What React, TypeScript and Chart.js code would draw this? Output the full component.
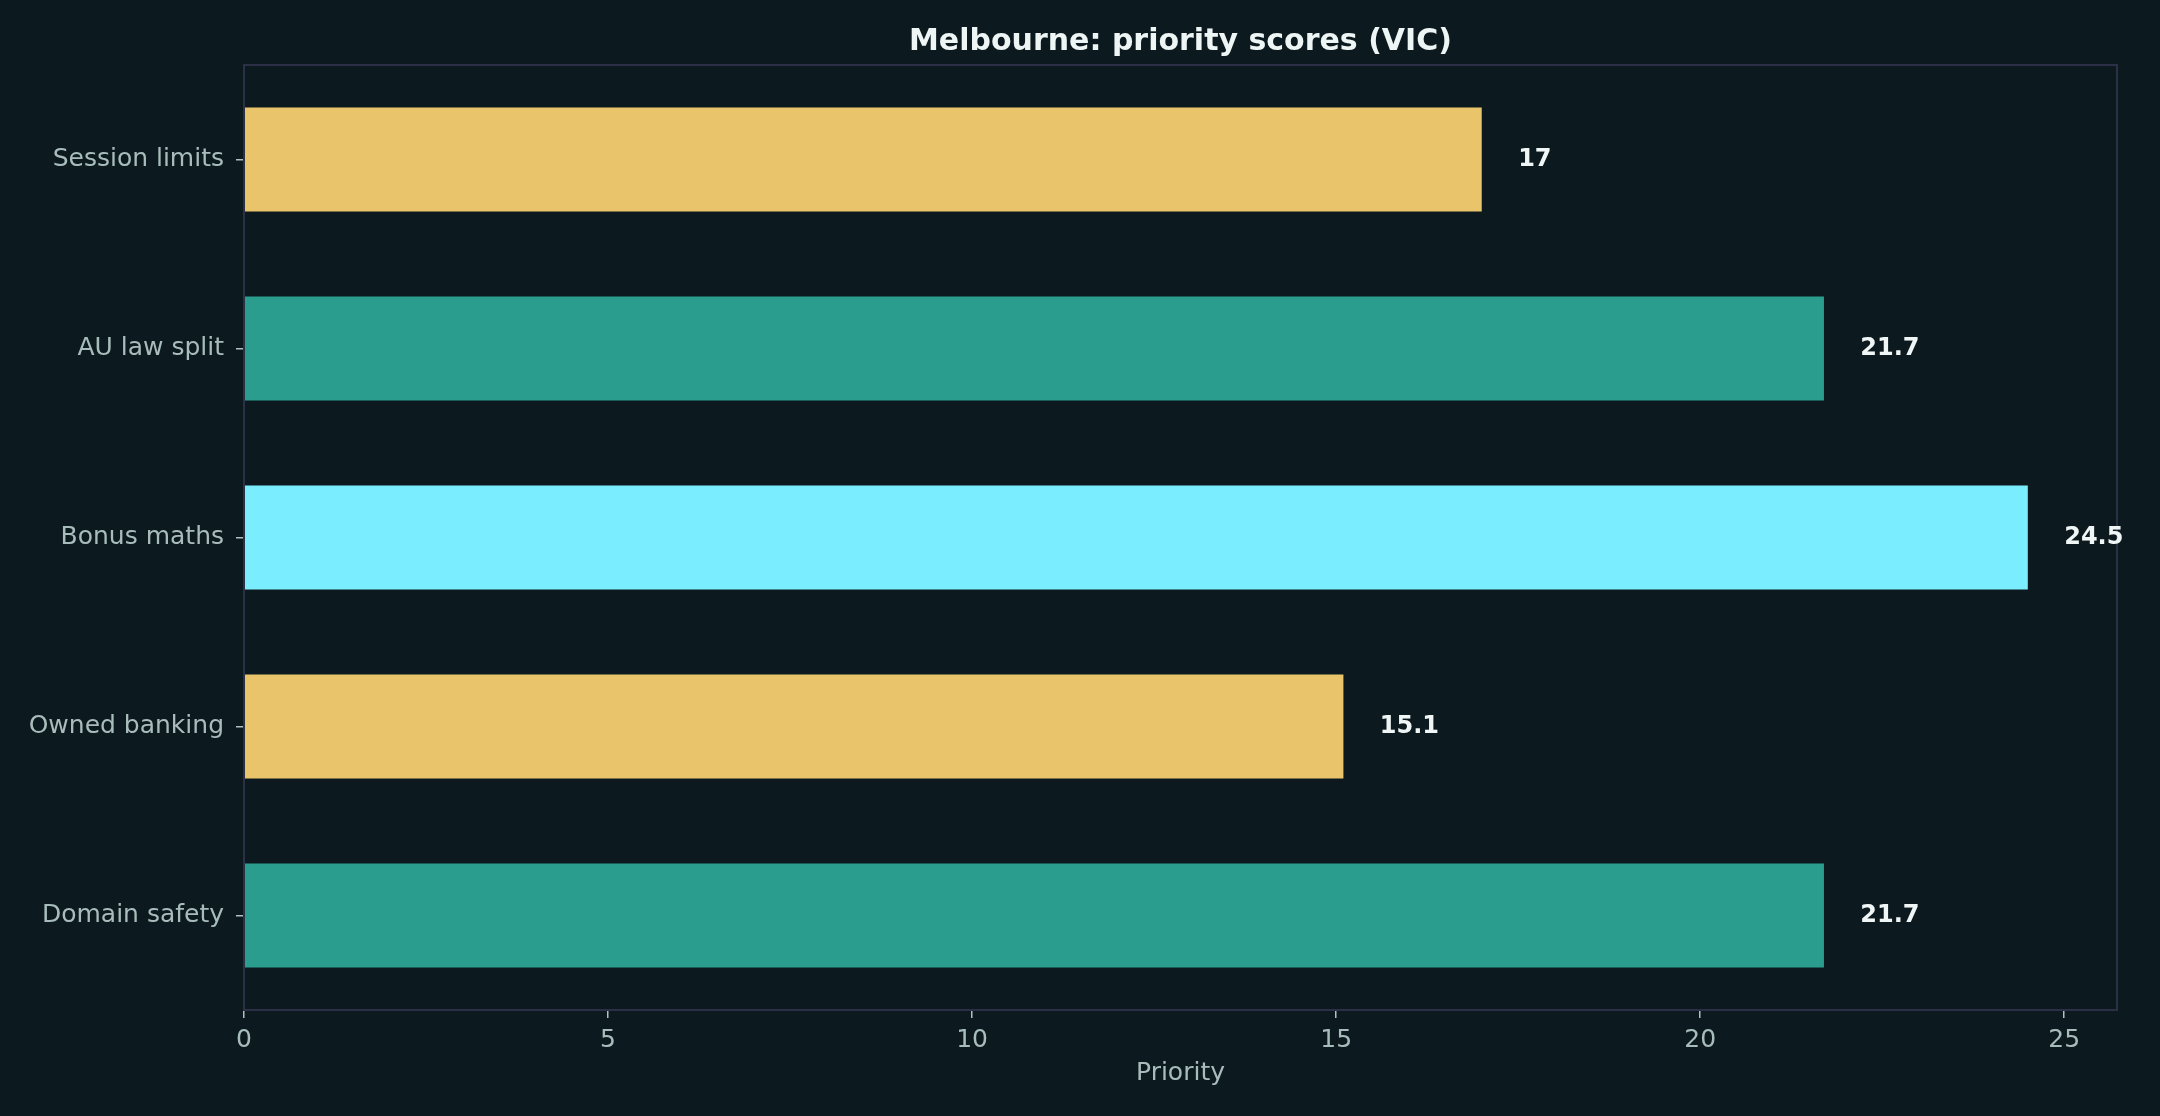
import React, { useEffect, useRef } from 'react';
import { Chart, registerables } from 'chart.js';

Chart.register(...registerables);

const categories = ['Session limits', 'AU law split', 'Bonus maths', 'Owned banking', 'Domain safety'];
const scores = [17, 21.7, 24.5, 15.1, 21.7];
const barColors = ['#e9c46a', '#2a9d8f', '#7aedfe', '#e9c46a', '#2a9d8f'];
const xTicks = [0, 5, 10, 15, 20, 25];

const BG = '#0c1a1f';
const FRAME = '#2b3046';
const TICK_TEXT = '#a9bcbc';
const FONT = "'DejaVu Sans', sans-serif";

const App: React.FC = () => {
    const chartRef = useRef<HTMLCanvasElement | null>(null);

    useEffect(() => {
        document.body.style.margin = '0';
        document.body.style.background = BG;

        const bgPlugin = {
            id: 'bg',
            beforeDraw(chart: any) {
                const { ctx, width, height } = chart;
                ctx.save();
                ctx.fillStyle = BG;
                ctx.fillRect(0, 0, width, height);
                ctx.restore();
            },
        };

        // frame round the plot area + value labels after each bar
        const labelPlugin = {
            id: 'valueLabels',
            afterDatasetsDraw(chart: any) {
                const { ctx, chartArea } = chart;
                const xs = chart.scales.x;
                ctx.save();
                ctx.strokeStyle = FRAME;
                ctx.lineWidth = 2;
                ctx.strokeRect(chartArea.left, chartArea.top, chartArea.right - chartArea.left, chartArea.bottom - chartArea.top);

                const meta = chart.getDatasetMeta(0);
                ctx.fillStyle = '#f0f5f5';
                ctx.font = `bold 24px ${FONT}`;
                ctx.textAlign = 'left';
                ctx.textBaseline = 'middle';
                scores.forEach((v, i) => {
                    const el = meta.data[i];
                    ctx.fillText(String(v), xs.getPixelForValue(v + 0.5), el.y);
                });
                ctx.restore();
            },
        };

        const ctx = chartRef.current?.getContext('2d');
        if (!ctx) return;

        const chart = new Chart(ctx, {
            type: 'bar',
            data: {
                labels: categories,
                datasets: [{
                    data: scores,
                    backgroundColor: barColors,
                    borderWidth: 0,
                    barPercentage: 0.55,
                    categoryPercentage: 1,
                }],
            },
            options: {
                indexAxis: 'y',
                responsive: false,
                animation: false,
                devicePixelRatio: 1,
                layout: { padding: { left: 0, right: 43, top: 0, bottom: 0 } },
                plugins: {
                    legend: { display: false },
                    tooltip: { enabled: false },
                    title: {
                        display: true,
                        fullSize: false,
                        text: 'Melbourne: priority scores (VIC)',
                        color: '#eef5f5',
                        font: { family: FONT, size: 30, weight: 'bold' },
                        padding: { top: 24, bottom: 5 },
                    },
                },
                scales: {
                    x: {
                        min: 0,
                        max: 25.725,
                        afterBuildTicks: (s: any) => {
                            s.ticks = xTicks.map((v) => ({ value: v }));
                        },
                        afterFit: (s: any) => {
                            s.height = 106;
                        },
                        ticks: {
                            color: TICK_TEXT,
                            font: { family: FONT, size: 25 },
                            padding: 7,
                            maxRotation: 0,
                        },
                        grid: {
                            drawOnChartArea: false,
                            drawTicks: true,
                            tickLength: 8,
                            color: '#b0c0c0',
                            lineWidth: 1.5,
                        },
                        border: { display: false },
                        title: {
                            display: true,
                            text: 'Priority',
                            color: TICK_TEXT,
                            font: { family: FONT, size: 25 },
                            padding: { top: 0, bottom: 28 },
                        },
                    },
                    y: {
                        afterFit: (s: any) => {
                            s.width = 244;
                        },
                        ticks: {
                            color: TICK_TEXT,
                            font: { family: FONT, size: 25 },
                            padding: 12,
                        },
                        grid: {
                            offset: false,
                            drawOnChartArea: false,
                            drawTicks: true,
                            tickLength: 8,
                            color: '#b0c0c0',
                            lineWidth: 1.5,
                        },
                        border: { display: false },
                    },
                },
            },
            plugins: [bgPlugin, labelPlugin],
        });

        return () => {
            chart.destroy();
        };
    }, []);

    return (
        <div style={{ position: 'fixed', left: 0, top: 0, width: 2160, height: 1116, background: BG }}>
            <canvas ref={chartRef} width={2160} height={1116} style={{ width: 2160, height: 1116 }}></canvas>
        </div>
    );
};

export default App;
